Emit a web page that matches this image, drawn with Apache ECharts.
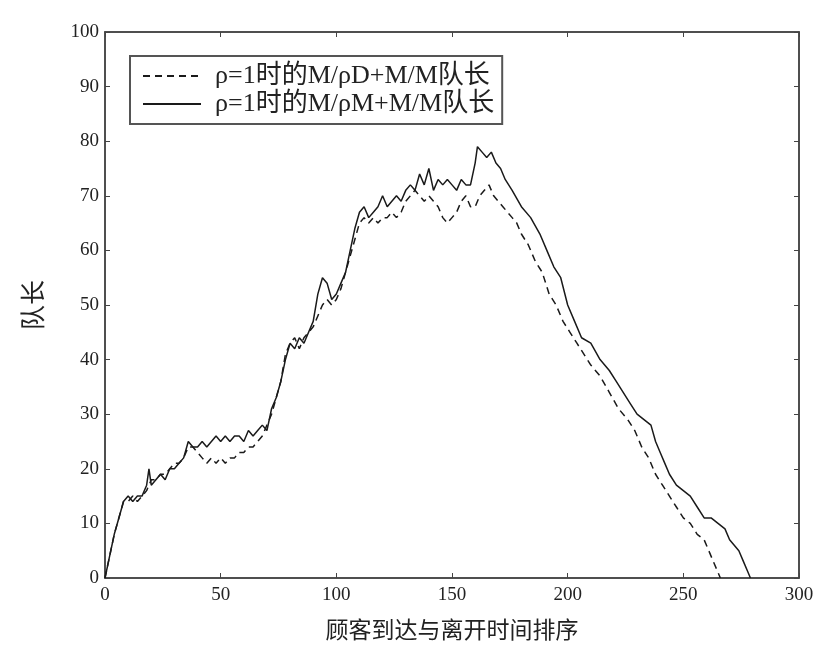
<!DOCTYPE html>
<html>
<head>
<meta charset="utf-8">
<script src="https://cdn.jsdelivr.net/npm/echarts@6/dist/echarts.min.js"></script>
<style>
  html, body { margin: 0; padding: 0; background: #fff; }
  #chart { width: 820px; height: 653px; }
</style>
</head>
<body>
<div id="chart"></div>
<script>
// Queue length vs. ordered arrival/departure events
const seriesNames = ['ρ=1时的M/ρD+M/M队长', 'ρ=1时的M/ρM+M/M队长'];

// M/ρD+M/M (dashed): event index, queue length
const dashedX = [0,2,4,6,8,10,12,14,16,18,20,22,24,26,28,30,32,34,36,38,40,42,44,46,48,50,52,54,56,58,60,62,64,66,68,70,72,74,76,78,80,82,84,86,88,90,92,94,96,98,100,102,104,106,108,110,112,114,116,118,120,122,124,126,128,130,132,134,136,138,140,142,144,146,148,150,152,154,156,158,160,162,164,166,168,170,172,174,176,178,180,183,186,189,192,195,198,201,204,207,210,214,218,222,226,229,232,235,238,241,244,247,250,253,256,259,261,263,265,266];
const dashedY = [0,4,8,11,14,14,15,14,15,16,18,18,19,19,20,21,21,22,24,24,23,22,21,22,21,22,21,22,22,23,23,24,24,25,26,28,30,33,36,41,43,44,42,44,45,46,48,50,51,50,51,53,56,59,62,65,66,65,66,65,66,66,67,66,67,69,70,71,70,69,70,69,68,66,65,66,67,69,70,68,68,70,71,72,70,69,68,67,66,65,63,61,58,56,52,50,47,45,43,41,39,37,34,31,29,27,24,22,19,17,15,13,11,10,8,7,5,3,1,0];

// M/ρM+M/M (solid): event index, queue length
const solidX = [0,2,4,6,8,10,12,14,16,18,19,20,22,24,26,28,30,32,34,36,38,40,42,44,46,48,50,52,54,56,58,60,62,64,66,68,70,72,74,76,78,80,82,84,86,88,90,92,94,96,98,100,102,104,106,108,110,112,114,116,118,120,122,124,126,128,130,132,134,136,138,140,142,144,146,148,150,152,154,156,158,160,161,163,165,167,169,171,173,176,180,184,188,191,194,197,200,203,206,210,214,218,221,224,227,230,233,236,238,240,242,244,247,250,253,256,259,262,265,268,270,272,274,276,278,279];
const solidY = [0,4,8,11,14,15,14,15,15,17,20,17,18,19,18,20,20,21,22,25,24,24,25,24,25,26,25,26,25,26,26,25,27,26,27,28,27,31,33,36,40,43,42,44,43,45,47,52,55,54,51,52,54,56,60,64,67,68,66,67,68,70,68,69,70,69,71,72,71,74,72,75,71,73,72,73,72,71,73,72,72,76,79,78,77,78,76,75,73,71,68,66,63,60,57,55,50,47,44,43,40,38,36,34,32,30,29,28,25,23,21,19,17,16,15,13,11,11,10,9,7,6,5,3,1,0];

const pair = (xs, ys) => xs.map((x, i) => [x, ys[i]]);

const serif = '"Liberation Serif", "DejaVu Serif", "Noto Sans CJK SC", serif';
const ink = '#222';

const chart = echarts.init(document.getElementById('chart'), null, { renderer: 'canvas' });

const axisLine = { show: true, onZero: false, lineStyle: { color: '#444', width: 1.5 } };
const tickIn = { show: true, inside: true, length: 5, lineStyle: { color: '#444', width: 1 } };

chart.setOption({
  backgroundColor: '#fff',
  animation: false,
  grid: {
    left: 105, right: 21, top: 32, bottom: 75, containLabel: false,
    show: true, borderColor: '#444', borderWidth: 1.5, backgroundColor: 'transparent'
  },
  legend: {
    show: true,
    data: seriesNames,
    orient: 'vertical',
    left: 130,
    top: 56,
    itemWidth: 58,
    itemHeight: 22,
    itemGap: 2,
    padding: [7, 8, 7, 12],
    borderColor: '#555',
    borderWidth: 2,
    backgroundColor: '#fff',
    itemStyle: { opacity: 0 },
    textStyle: { fontFamily: serif, fontSize: 26, color: ink, padding: [0, 0, 0, 9] }
  },
  xAxis: [
    {
      type: 'value', min: 0, max: 300, interval: 50,
      name: '顾客到达与离开时间排序',
      nameLocation: 'middle', nameGap: 40,
      nameTextStyle: { fontFamily: '"Noto Sans CJK SC", serif', fontSize: 23, color: ink },
      axisLine, axisTick: tickIn, splitLine: { show: false },
      axisLabel: { fontFamily: serif, fontSize: 19, color: ink, margin: 8 }
    },
    {
      type: 'value', min: 0, max: 300, interval: 50, position: 'top', show: true,
      axisLine, axisTick: tickIn, splitLine: { show: false },
      axisLabel: { show: false }
    }
  ],
  yAxis: [
    {
      type: 'value', min: 0, max: 100, interval: 10,
      name: '队长',
      nameLocation: 'middle', nameGap: 60, nameRotate: 90,
      nameTextStyle: { fontFamily: '"Noto Sans CJK SC", serif', fontSize: 25, color: ink },
      axisLine, axisTick: tickIn, splitLine: { show: false },
      axisLabel: { fontFamily: serif, fontSize: 19, color: ink, margin: 6 }
    },
    {
      type: 'value', min: 0, max: 100, interval: 10, position: 'right', show: true,
      axisLine, axisTick: tickIn, splitLine: { show: false },
      axisLabel: { show: false }
    }
  ],
  series: [
    {
      name: seriesNames[0], type: 'line', data: pair(dashedX, dashedY),
      xAxisIndex: 0, yAxisIndex: 0,
      showSymbol: false, symbol: 'none',
      lineStyle: { color: '#1a1a1a', width: 1.5, type: [7, 5] },
      itemStyle: { color: '#1a1a1a' }
    },
    {
      name: seriesNames[1], type: 'line', data: pair(solidX, solidY),
      xAxisIndex: 0, yAxisIndex: 0,
      showSymbol: false, symbol: 'none',
      lineStyle: { color: '#1a1a1a', width: 1.5 },
      itemStyle: { color: '#1a1a1a' }
    },
    {
      // empty series so the mirrored top/right axes get drawn with their ticks
      type: 'line', data: [], xAxisIndex: 1, yAxisIndex: 1, silent: true
    }
  ]
});
</script>
</body>
</html>
